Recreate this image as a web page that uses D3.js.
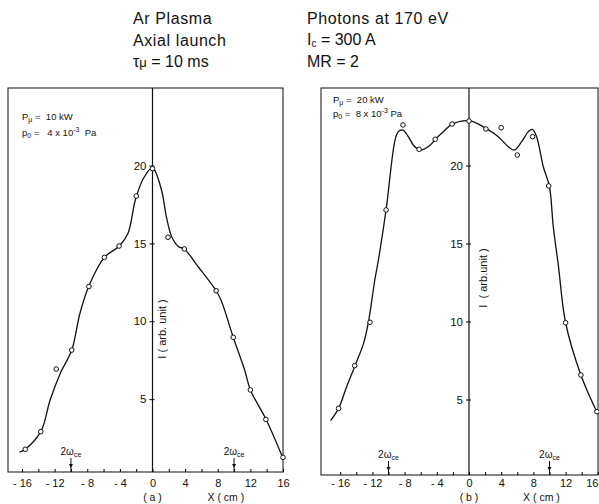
<!DOCTYPE html>
<html><head><meta charset="utf-8">
<script src="https://cdn.jsdelivr.net/npm/d3@7"></script>
<style>
body{margin:0;background:#fff;}
svg text{font-family:"Liberation Sans",Arial,sans-serif;fill:#111;}
</style></head>
<body><svg id="c" width="599" height="504"></svg>
<script>
// ---- data ----
const xTickValues = [-16,-12,-8,-4,0,4,8,12,16];
const xMinorTicks = [-16,-14,-12,-10,-8,-6,-4,-2,0,2,4,6,8,10,12,14,16];
const yTickValues = [5,10,15,20];
const resonanceX = [-10, 10];

// (a) measured points
const aPointX = [-15.6,-13.7,-11.8,-9.9,-7.8,-5.9,-4.1,-2.0,0,1.9,3.9,7.8,9.9,12.0,13.9,16.0];
const aPointY = [1.78,2.91,6.93,8.15,12.23,14.1,14.83,18.04,19.8,15.39,14.64,11.96,8.97,5.59,3.70,1.26];
// (a) fitted curve (hand-drawn smooth line)
const aCurveX = [-16.3,-15.6,-13.7,-12.55,-11.3,-9.9,-8.9,-7.8,-5.9,-4.07,-3.0,-2.1,-1.1,0,1.1,1.7,2.35,3.2,3.9,5.6,7.8,8.4,9.9,11.3,12.0,13.9,15.95];
const aCurveY = [1.59,1.78,2.91,4.94,6.66,8.15,10.5,12.26,14.1,14.83,15.65,17.8,19.18,19.84,18.43,16.71,15.43,14.79,14.64,13.5,11.96,11.36,8.97,6.87,5.59,3.72,1.26];

// (b) measured points
const bPointX = [-16.2,-14.2,-12.3,-10.3,-8.2,-6.2,-4.2,-2.1,0,2.1,4.0,6.0,7.9,9.9,12.0,13.9,15.9];
const bPointY = [4.43,7.17,9.95,17.15,22.6,21.04,21.68,22.66,22.85,22.34,22.42,20.67,21.85,18.69,9.92,6.57,4.22];
// (b) fitted curve
const bCurveX = [-17.2,-16.2,-15.2,-14.16,-13.1,-12.5,-11.7,-11.3,-10.3,-9.2,-8.78,-8.24,-7.54,-6.9,-6.09,-4.84,-4.2,-3.19,-2.07,0,2.1,3.64,4.88,5.63,6.54,7.37,7.87,8.4,9.23,9.98,10.47,11.1,12.0,13.9,15.86];
const bCurveY = [3.64,4.43,5.82,7.17,8.6,9.95,12.66,13.8,17.15,21.6,22.17,22.28,21.85,21.3,20.99,21.3,21.68,22.17,22.66,22.87,22.38,21.85,21.2,20.99,21.53,22.17,22.32,21.85,19.92,18.69,16.08,13.6,9.92,6.57,4.22];

const headLeft = ["Ar  Plasma","Axial  launch"];
const headRight = ["Photons  at  170 eV"];

// ---- drawing ----
const svg = d3.select("#c");

function panel(o){
  const g = svg.append("g");
  const x = d3.scaleLinear().domain([-16,16]).range(o.xr);
  const y = d3.scaleLinear().domain([0,20]).range(o.yr);
  const x0 = x(0);
  // frame
  g.append("rect").attr("x",o.box[0]).attr("y",o.box[1])
    .attr("width",o.box[2]-o.box[0]).attr("height",o.box[3]-o.box[1])
    .attr("fill","none").attr("stroke","#222").attr("stroke-width",1.1);
  // vertical axis at x=0
  g.append("line").attr("x1",x0).attr("x2",x0).attr("y1",o.box[1]).attr("y2",o.box[3])
    .attr("stroke","#111").attr("stroke-width",1.2);
  const ya = g.append("g").attr("transform",`translate(${x0},0)`)
    .call(d3.axisLeft(y).tickValues(yTickValues).tickSize(3).tickPadding(3));
  ya.select(".domain").remove();
  ya.selectAll("text").style("font-size","11.5px");
  const yb = g.append("g").attr("transform",`translate(${x0},0)`)
    .call(d3.axisRight(y).tickValues(yTickValues).tickSize(2).tickFormat(""));
  yb.select(".domain").remove();
  // bottom axis minor ticks (upward)
  const xb = g.append("g").attr("transform",`translate(0,${o.box[3]})`)
    .call(d3.axisTop(x).tickValues(xMinorTicks).tickSize(3).tickFormat(""));
  xb.select(".domain").remove();
  // bottom labels
  const xl = g.append("g").attr("transform",`translate(0,${o.box[3]})`)
    .call(d3.axisBottom(x).tickValues(xTickValues).tickSize(0).tickPadding(o.tp)
      .tickFormat(d => d<0 ? "- "+(-d) : String(d)));
  xl.select(".domain").remove();
  xl.selectAll("text").style("font-size","11px");
  if(o.lastEnd){
    xl.selectAll("text").filter(d=>d===16).attr("text-anchor","end").attr("x",598-x(16));
  }
  // y label
  g.append("text").attr("transform",`translate(${o.ylab[0]},${o.ylab[1]}) rotate(-90)`)
    .attr("text-anchor","middle").style("font-size","11px").style("white-space","pre")
    .text(o.ylabText);
  // panel caption
  g.append("text").attr("x",x0).attr("y",501).attr("text-anchor","middle")
    .style("font-size","10.5px").style("white-space","pre").text(o.cap);
  g.append("text").attr("x",x(9)).attr("y",501).attr("text-anchor","middle")
    .style("font-size","10.5px").style("white-space","pre").text("X ( cm )");
  // resonance markers
  resonanceX.forEach(v=>{
    const px = x(v);
    const t = g.append("text").attr("x",px).attr("y",o.box[3]-17).attr("text-anchor","middle")
      .style("font-size","10px");
    t.append("tspan").text("2ω");
    t.append("tspan").attr("dy",2).style("font-size","7px").text("ce");
    g.append("line").attr("x1",px).attr("x2",px).attr("y1",o.box[3]-14).attr("y2",o.box[3])
      .attr("stroke","#111").attr("stroke-width",1);
    g.append("path").attr("d",`M${px-2},${o.box[3]-8} L${px+2},${o.box[3]-8} L${px},${o.box[3]-4} Z`)
      .attr("fill","#111");
  });
  // curve
  const line = d3.line().x(d=>x(d[0])).y(d=>y(d[1])).curve(d3.curveCatmullRom.alpha(0.5));
  g.append("path").datum(d3.zip(o.cx,o.cy)).attr("d",line)
    .attr("fill","none").attr("stroke","#111").attr("stroke-width",1.3);
  // points
  g.selectAll("circle.p").data(d3.zip(o.px,o.py)).join("circle")
    .attr("cx",d=>x(d[0])).attr("cy",d=>y(d[1])).attr("r",2.3)
    .attr("fill","#fff").attr("stroke","#111").attr("stroke-width",1);
  // parameter labels
  o.params.forEach((p,i)=>{
    const t = g.append("text").attr("x",o.pp[0]).attr("y",o.pp[1]+i*o.pp[2])
      .style("font-size","9.5px").style("white-space","pre");
    t.append("tspan").text(p[0]);
    t.append("tspan").attr("dy",2).style("font-size","7px").text(p[1]);
    t.append("tspan").attr("dy",-2).text(p[2]);
    if(p[3]){
      t.append("tspan").attr("dy",-4).style("font-size","7px").text(p[3]);
      t.append("tspan").attr("dy",4).text(p[4]);
    }
  });
}

panel({xr:[22,283], yr:[477,165.5], box:[8,88,283,472], tp:7,
  cx:aCurveX, cy:aCurveY, px:aPointX, py:aPointY,
  ylab:[166,329], ylabText:"I ( arb. unit )", cap:"( a )",
  pp:[22,120,16],
  params:[["P","μ"," =  10 kW"],["p","0"," =   4 x 10","-3","  Pa"]]});

panel({xr:[340.2,597.8], yr:[477.5,165.5], box:[321,88,598,475], tp:4, lastEnd:true,
  cx:bCurveX, cy:bCurveY, px:bPointX, py:bPointY,
  ylab:[487,278], ylabText:"I  ( arb.unit )", cap:"( b )",
  pp:[333,103,14],
  params:[["P","μ"," =  20 kW"],["p","0"," =  8 x 10","-3"," Pa"]]});

// headings
const H = svg.append("g").style("font-size","16px").style("white-space","pre");
headLeft.forEach((s,i)=>H.append("text").attr("x",133).attr("y",24+i*21.5).style("letter-spacing","0.6px").text(s));
const t1 = H.append("text").attr("x",133).attr("y",67);
t1.append("tspan").text("τ");
t1.append("tspan").style("font-size","13px").text("μ");
t1.append("tspan").text(" =  10 ms");
headRight.forEach((s,i)=>H.append("text").attr("x",307).attr("y",24).style("letter-spacing","0.6px").text(s));
const t2 = H.append("text").attr("x",307).attr("y",45);
t2.append("tspan").text("I");
t2.append("tspan").attr("dy",2).style("font-size","10px").text("c");
t2.append("tspan").attr("dy",-2).text(" = 300 A");
H.append("text").attr("x",307).attr("y",67).text("MR = 2");
</script></body></html>
